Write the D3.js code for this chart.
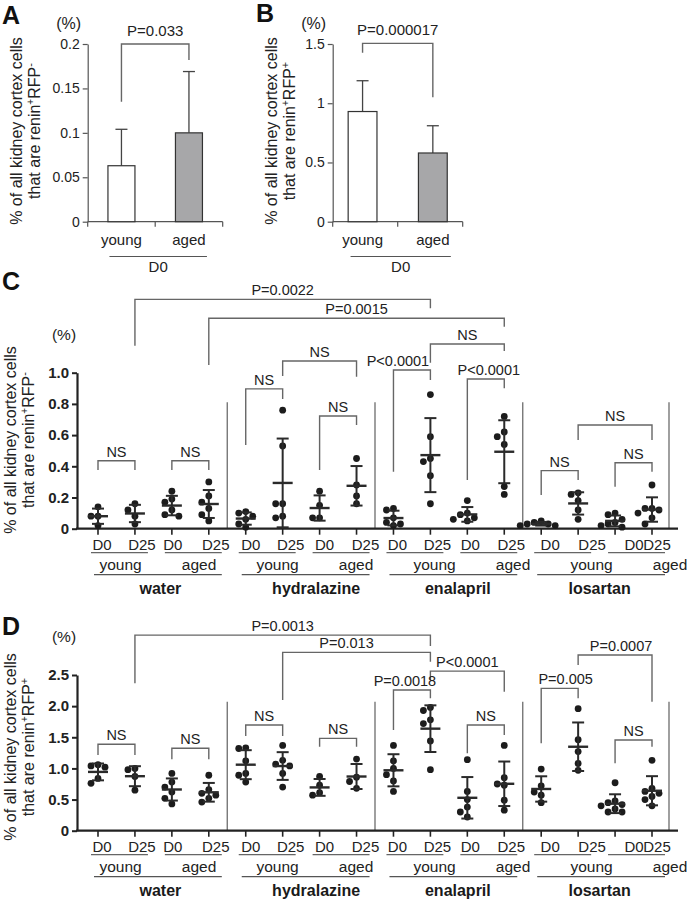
<!DOCTYPE html>
<html>
<head>
<meta charset="utf-8">
<script src="https://cdn.jsdelivr.net/npm/d3@7"></script>
<style>
body { margin: 0; background: #fff; }
text { font-family: "Liberation Sans", Arial, sans-serif; fill: #222; }
</style>
</head>
<body>
<script>
var width = 693, height = 903;

// panels A and B (mean, SD)
var abGroups = ["young", "aged"];
var aMean = [0.063, 0.100];
var aSD = [0.041, 0.069];
var bMean = [0.93, 0.58];
var bSD = [0.26, 0.23];
var aTicks = [0, 0.05, 0.1, 0.15, 0.2];
var bTicks = [0, 0.5, 1, 1.5];

// panels C and D
var treatments = ["water", "hydralazine", "enalapril", "losartan"];
var ages = ["young", "aged"];
var days = ["D0", "D25"];
var cTicks = [0, 0.2, 0.4, 0.6, 0.8, 1.0];
var dTicks = [0, 0.5, 1, 1.5, 2, 2.5];

// renin+RFP- (C), one array per treatment/age/day
var rfpNeg = [
  [0.14, 0.08, 0.08, 0.02],
  [0.16, 0.12, 0.08, 0.03],
  [0.24, 0.19, 0.17, 0.12, 0.09, 0.08],
  [0.30, 0.21, 0.17, 0.13, 0.09, 0.05],
  [0.11, 0.10, 0.08, 0.06, 0.03, 0.01],
  [0.76, 0.53, 0.16, 0.16, 0.08, 0.07],
  [0.24, 0.15, 0.07, 0.07],
  [0.45, 0.28, 0.21, 0.16],
  [0.13, 0.12, 0.07, 0.04, 0.03, 0.02],
  [0.86, 0.59, 0.45, 0.43, 0.34, 0.16],
  [0.18, 0.10, 0.09, 0.07, 0.06, 0.05],
  [0.72, 0.62, 0.59, 0.54, 0.27, 0.22],
  [0.05, 0.04, 0.03, 0.03, 0.02, 0.02],
  [0.23, 0.22, 0.18, 0.12, 0.06],
  [0.10, 0.09, 0.06, 0.04, 0.03, 0.02, 0.01],
  [0.28, 0.13, 0.13, 0.12, 0.10, 0.07, 0.03]
];

// renin+RFP+ (D)
var rfpPos = [
  [1.06, 1.04, 1.02, 0.84, 0.76],
  [1.00, 0.98, 0.87, 0.65],
  [0.92, 0.78, 0.70, 0.62, 0.52, 0.43],
  [0.89, 0.66, 0.60, 0.57, 0.52, 0.46],
  [1.33, 1.32, 1.12, 0.92, 0.89, 0.78],
  [1.37, 1.13, 1.07, 1.04, 0.92, 0.70],
  [0.87, 0.73, 0.61, 0.57],
  [1.15, 0.86, 0.79, 0.68],
  [1.37, 1.12, 1.00, 0.90, 0.80, 0.63],
  [1.98, 1.93, 1.78, 1.72, 1.44, 0.98],
  [1.14, 0.63, 0.50, 0.38, 0.30, 0.22],
  [1.37, 0.85, 0.75, 0.73, 0.49, 0.33],
  [0.99, 0.72, 0.62, 0.57, 0.45],
  [1.96, 1.46, 1.27, 1.08, 0.97],
  [0.77, 0.48, 0.45, 0.42, 0.40, 0.35, 0.30, 0.30],
  [1.13, 0.68, 0.63, 0.60, 0.55, 0.50, 0.40]
];

// comparisons: a, b = category index, y = bracket level, la/lb = leg ends (data units)
var cTests = [
  {a: 1, b: 9, y: 1.47, la: 1.173, lb: 1.413, text: "P=0.0022"},
  {a: 3, b: 11, y: 1.349, la: 1.049, lb: 1.295, text: "P=0.0015"},
  {a: 9, b: 11, y: 1.184, la: 1.064, lb: 1.139, text: "NS"},
  {a: 8, b: 9, y: 1.017, la: 0.365, lb: 0.953, text: "P<0.0001"},
  {a: 10, b: 11, y: 0.96, la: 0.312, lb: 0.90, text: "P<0.0001"},
  {a: 4, b: 5, y: 0.896, la: 0.537, lb: 0.831, text: "NS"},
  {a: 5, b: 7, y: 1.075, la: 0.979, lb: 0.974, text: "NS"},
  {a: 6, b: 7, y: 0.722, la: 0.376, lb: 0.665, text: "NS"},
  {a: 0, b: 1, y: 0.436, la: 0.376, lb: 0.376, text: "NS"},
  {a: 2, b: 3, y: 0.436, la: 0.376, lb: 0.376, text: "NS"},
  {a: 12, b: 13, y: 0.372, la: 0.216, lb: 0.312, text: "NS"},
  {a: 13, b: 15, y: 0.665, la: 0.569, lb: 0.569, text: "NS"},
  {a: 14, b: 15, y: 0.423, la: 0.269, lb: 0.365, text: "NS"}
];
var dTests = [
  {a: 1, b: 9, y: 3.141, la: 2.366, lb: 2.965, text: "P=0.0013"},
  {a: 5, b: 9, y: 2.864, la: 2.098, lb: 2.713, text: "P=0.013"},
  {a: 9, b: 11, y: 2.563, la: 2.419, lb: 2.231, text: "P<0.0001"},
  {a: 8, b: 9, y: 2.258, la: 1.616, lb: 2.125, text: "P=0.0018"},
  {a: 10, b: 11, y: 1.697, la: 1.242, lb: 1.536, text: "NS"},
  {a: 12, b: 13, y: 2.286, la: 1.403, lb: 2.125, text: "P=0.005"},
  {a: 13, b: 15, y: 2.82, la: 2.66, lb: 2.071, text: "P=0.0007"},
  {a: 14, b: 15, y: 1.456, la: 1.082, lb: 1.348, text: "NS"},
  {a: 0, b: 1, y: 1.387, la: 1.215, lb: 1.215, text: "NS"},
  {a: 2, b: 3, y: 1.323, la: 1.146, lb: 1.146, text: "NS"},
  {a: 4, b: 5, y: 1.697, la: 1.52, lb: 1.52, text: "NS"},
  {a: 6, b: 7, y: 1.483, la: 1.348, lb: 1.348, text: "NS"}
];

// small text nudges (layout only)
var cTextShift = {3: -14, 4: 3};
var dTextShift = {1: -10, 3: -7, 5: 6, 6: 6};
var dayLabelShift = [4, 7, 1, 7, 5, 8, 5, 9, 4, 7, 3, 7, 9, 14, 19, 5];
var groupLabelShift = [7, 15, 9, 3];

var svg = d3.select("body").append("svg")
  .attr("width", width)
  .attr("height", height);

function yLabel(cx1, cx2, cy, sign) {
  var fs = 16;
  var lines = [cx1, cx2];
  var g = svg.append("g").attr("transform", "translate(0," + cy + ") rotate(-90)");
  g.append("text")
    .attr("x", 0).attr("y", cx1 + fs * 0.35)
    .attr("text-anchor", "middle")
    .style("font-size", fs + "px")
    .text("% of all kidney cortex cells");
  var t = g.append("text")
    .attr("x", 0).attr("y", cx2 + fs * 0.35)
    .attr("text-anchor", "middle")
    .style("font-size", fs + "px");
  t.append("tspan").text("that are renin");
  t.append("tspan").attr("dy", -6).style("font-size", "10px").text("+");
  t.append("tspan").attr("dy", 6).text("RFP");
  t.append("tspan").attr("dy", -6).style("font-size", "11px").text(sign);
}

function panelLetter(s, x, y) {
  svg.append("text").attr("x", x).attr("y", y)
    .style("font-size", "25px").style("font-weight", "bold").style("fill", "#111")
    .text(s);
}

function bracket(x1, x2, yv, ya, yb, color) {
  svg.append("path")
    .attr("d", "M" + x1 + "," + ya + "V" + yv + "H" + x2 + "V" + yb)
    .attr("fill", "none")
    .attr("stroke", color || "#666")
    .attr("stroke-width", 1.4);
}

// ---------- bar panels A, B ----------
function barPanel(o) {
  var x = d3.scaleBand().domain(abGroups).range([o.x0, o.x1])
    .paddingInner(o.pin).paddingOuter(o.pout);
  var y = d3.scaleLinear().domain([0, o.max]).range([221.7, 44]);
  var bw = x.bandwidth();

  var ax = svg.append("g").attr("transform", "translate(" + o.x0 + ",0)")
    .call(d3.axisLeft(y).tickValues(o.ticks).tickSize(5).tickSizeOuter(0)
      .tickFormat(function(d) { return String(d); }));
  ax.select(".domain").attr("stroke", "#555").attr("stroke-width", 1.2);
  ax.selectAll(".tick line").attr("stroke", "#555").attr("stroke-width", 1.2);
  ax.selectAll(".tick text").style("font-size", "14px")
    .style("font-family", "'Liberation Sans', Arial, sans-serif").attr("fill", "#222");

  svg.append("line").attr("x1", o.x0).attr("x2", o.x1)
    .attr("y1", y(0)).attr("y2", y(0)).attr("stroke", "#555").attr("stroke-width", 1.2);
  var mid = (x("young") + bw + x("aged")) / 2;
  [o.x0, mid, o.x1].forEach(function(t) {
    svg.append("line").attr("x1", t).attr("x2", t).attr("y1", y(0)).attr("y2", y(0) + 5)
      .attr("stroke", "#555").attr("stroke-width", 1.2);
  });

  abGroups.forEach(function(gname, i) {
    var cx = x(gname) + bw / 2;
    var top = o.mean[i] + o.sd[i];
    svg.append("line").attr("x1", cx).attr("x2", cx)
      .attr("y1", y(o.mean[i])).attr("y2", y(top))
      .attr("stroke", "#444").attr("stroke-width", 1.3);
    svg.append("line").attr("x1", cx - 6).attr("x2", cx + 6)
      .attr("y1", y(top)).attr("y2", y(top))
      .attr("stroke", "#444").attr("stroke-width", 1.3);
    svg.append("rect")
      .attr("x", x(gname)).attr("y", y(o.mean[i]))
      .attr("width", bw).attr("height", y(0) - y(o.mean[i]))
      .attr("fill", i === 0 ? "#fff" : "#a7a7a9")
      .attr("stroke", "#333").attr("stroke-width", 1.2);
    svg.append("text").attr("x", cx).attr("y", 245)
      .attr("text-anchor", "middle").style("font-size", "15px").text(gname);
  });

  var xa = x("young") + bw / 2, xb = x("aged") + bw / 2;
  bracket(xa, xb, y(o.test.y), y(o.test.la), y(o.test.lb));
  svg.append("text").attr("x", (xa + xb) / 2).attr("y", y(o.test.y) - 8)
    .attr("text-anchor", "middle").style("font-size", "15px").text(o.test.text);

  svg.append("line").attr("x1", xa - 12).attr("x2", xb + 18)
    .attr("y1", 256.5).attr("y2", 256.5).attr("stroke", "#555").attr("stroke-width", 1.2);
  svg.append("text").attr("x", (xa - 12 + xb + 18) / 2).attr("y", 272)
    .attr("text-anchor", "middle").style("font-size", "15px").text("D0");

  svg.append("text").attr("x", o.x0 - 19).attr("y", 29)
    .attr("text-anchor", "middle").style("font-size", "16px").text("(%)");
}

barPanel({x0: 87.7, x1: 222.7, pin: 0.6, pout: 0.3, max: 0.2, ticks: aTicks,
  mean: aMean, sd: aSD, test: {y: 0.2, la: 0.135, lb: 0.182, text: "P=0.033"}});
barPanel({x0: 332.7, x1: 462.7, pin: 0.59, pout: 0.22, max: 1.5, ticks: bTicks,
  mean: bMean, sd: bSD, test: {y: 1.505, la: 1.426, lb: 1.05, text: "P=0.000017"}});
yLabel(16.5, 34.5, 131, "-");
yLabel(271.7, 289.7, 131, "+");
panelLetter("A", 2, 24);
panelLetter("B", 256, 22);

// ---------- dot plot panels C, D ----------
var cats = [];
treatments.forEach(function(tr) {
  ages.forEach(function(ag) {
    days.forEach(function(dy) { cats.push({tr: tr, age: ag, day: dy}); });
  });
});
var x = d3.scalePoint().domain(d3.range(cats.length)).range([98, 652]);

function swarm(vals, y, r) {
  var placed = [], out = [];
  var order = d3.range(vals.length).sort(function(a, b) { return vals[b] - vals[a]; });
  var cands = [0, -7, 7, -14, 14, -21, 21];
  order.forEach(function(i) {
    var py = y(vals[i]);
    for (var k = 0; k < cands.length; k++) {
      var ok = placed.every(function(p) {
        var dx = p[0] - cands[k], dy = p[1] - py;
        return dx * dx + dy * dy >= 6.8 * 6.8;
      });
      if (ok || k === cands.length - 1) { out[i] = cands[k]; placed.push([cands[k], py]); break; }
    }
  });
  return out;
}

function dotPanel(o) {
  var y = d3.scaleLinear().domain([0, o.max]).range([o.base, o.top]);
  var xEnd = 678;

  // separators between treatments
  treatments.forEach(function(tr, t) {
    var last = t * 4 + 3;
    var sx = t < 3 ? (x(last) + x(last + 1)) / 2 : x(last) + 17;
    svg.append("line").attr("x1", sx).attr("x2", sx)
      .attr("y1", y(o.sep)).attr("y2", o.base)
      .attr("stroke", "#777").attr("stroke-width", 1.4);
  });

  // axes
  var ax = svg.append("g").attr("transform", "translate(77,0)")
    .call(d3.axisLeft(y).tickValues(o.ticks).tickSize(5).tickSizeOuter(0)
      .tickFormat(function(d) { return d === 0 ? "0" : d3.format(".1f")(d); }));
  ax.select(".domain").attr("stroke", "#222").attr("stroke-width", 2.2);
  ax.selectAll(".tick line").attr("stroke", "#222").attr("stroke-width", 2);
  ax.selectAll(".tick text").style("font-size", "15px").style("font-weight", "bold")
    .style("font-family", "'Liberation Sans', Arial, sans-serif").attr("fill", "#333").attr("x", -8);
  svg.append("line").attr("x1", 76).attr("x2", xEnd)
    .attr("y1", o.base).attr("y2", o.base).attr("stroke", "#222").attr("stroke-width", 2.2);

  cats.forEach(function(c, i) {
    var cx = x(i);
    svg.append("line").attr("x1", cx).attr("x2", cx).attr("y1", o.base).attr("y2", o.base + 6)
      .attr("stroke", "#222").attr("stroke-width", 1.6);
    svg.append("text").attr("x", cx + dayLabelShift[i]).attr("y", o.base + 21)
      .attr("text-anchor", "middle").style("font-size", "15px").text(c.day);

    var vals = o.data[i];
    var m = d3.mean(vals), s = d3.deviation(vals);
    var offs = swarm(vals, y, 3.4);
    svg.append("g").selectAll("circle").data(vals).enter().append("circle")
      .attr("cx", function(d, k) { return cx + offs[k]; })
      .attr("cy", function(d) { return y(d); })
      .attr("r", 3.4)
      .attr("fill", "#1c1c1c");
    svg.append("line").attr("x1", cx).attr("x2", cx).attr("y1", y(m - s)).attr("y2", y(m + s))
      .attr("stroke", "#2a2a2a").attr("stroke-width", 2);
    [m - s, m + s].forEach(function(v) {
      svg.append("line").attr("x1", cx - 6).attr("x2", cx + 6).attr("y1", y(v)).attr("y2", y(v))
        .attr("stroke", "#2a2a2a").attr("stroke-width", 2);
    });
    svg.append("line").attr("x1", cx - 10).attr("x2", cx + 10).attr("y1", y(m)).attr("y2", y(m))
      .attr("stroke", "#2a2a2a").attr("stroke-width", 2.4);
  });

  // group labels under axis
  treatments.forEach(function(tr, t) {
    ages.forEach(function(ag, a) {
      var i0 = t * 4 + a * 2, i1 = i0 + 1;
      svg.append("line").attr("x1", x(i0) - 7).attr("x2", x(i1) + 13)
        .attr("y1", o.base + 24).attr("y2", o.base + 24).attr("stroke", "#666").attr("stroke-width", 1.2);
      var pc = (x(i0) + x(i1)) / 2;
      svg.append("text").attr("x", pc + 0.0627 * pc - 3.2).attr("y", o.base + 41)
        .attr("text-anchor", "middle").style("font-size", "15.5px").text(ag);
    });
    var g0 = t * 4, g1 = t * 4 + 3;
    svg.append("line").attr("x1", x(g0) - 4).attr("x2", x(g1) + 13)
      .attr("y1", o.base + 46).attr("y2", o.base + 46).attr("stroke", "#555").attr("stroke-width", 1.3);
    svg.append("text").attr("x", (x(g0) + x(g1)) / 2 + groupLabelShift[t]).attr("y", o.base + 65.5)
      .attr("text-anchor", "middle").style("font-size", "16px").style("font-weight", "bold")
      .style("fill", "#1a1a1a").text(tr);
  });

  // significance brackets
  o.tests.forEach(function(d, k) {
    bracket(x(d.a), x(d.b), y(d.y), y(d.la), y(d.lb));
    svg.append("text").attr("x", (x(d.a) + x(d.b)) / 2 + (o.shift[k] || 0)).attr("y", y(d.y) - 4)
      .attr("text-anchor", "middle").style("font-size", "14.5px").text(d.text);
  });

  svg.append("text").attr("x", 64).attr("y", o.top - 33)
    .attr("text-anchor", "middle").style("font-size", "15.5px").text("(%)");
}

dotPanel({base: 528.7, top: 372.7, max: 1.0, sep: 0.81, ticks: cTicks,
  data: rfpNeg, tests: cTests, shift: cTextShift});
dotPanel({base: 830.7, top: 675, max: 2.5, sep: 2.07, ticks: dTicks,
  data: rfpPos, tests: dTests, shift: dTextShift});
yLabel(10, 28.3, 440, "-");
yLabel(10, 28.3, 747, "+");
panelLetter("C", 2, 290);
panelLetter("D", 2, 635);
</script>
</body>
</html>
